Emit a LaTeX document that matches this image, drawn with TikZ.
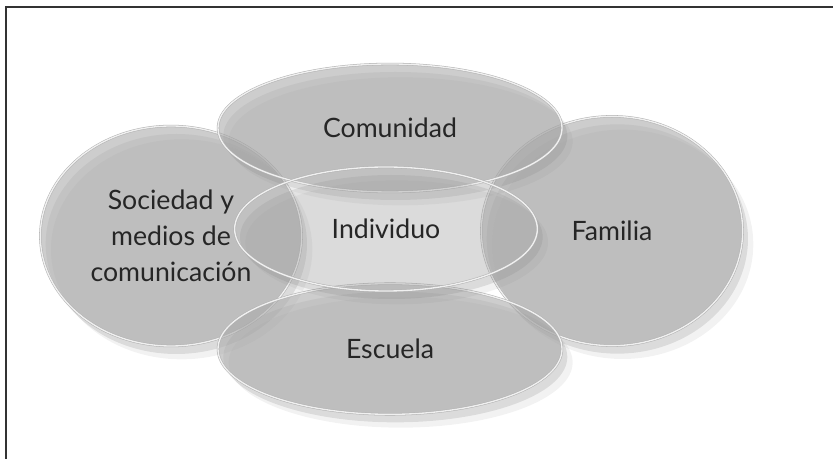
\documentclass[tikz,border=0pt]{standalone}
\usepackage{fontspec}
\setmainfont{Lato}
\usetikzlibrary{shapes,shadows}

\begin{document}
\begin{tikzpicture}[x=0.75pt, y=-0.75pt,
    ring/.style={ellipse, draw=black!30, line width=0.4pt, double=black!6, double distance=1pt,
        fill=black!33, fill opacity=0.6, text opacity=1, text=black!85, align=center, inner sep=0pt,
        font=\fontsize{20}{27}\selectfont,
        drop shadow={shadow xshift=8pt, shadow yshift=-10pt, opacity=0.1, fill=black!50},
        drop shadow={shadow xshift=4pt, shadow yshift=-6pt, opacity=0.2, fill=black!50}},
    core/.style={ring, fill=black!16, fill opacity=0.15}]
    \useasboundingbox (0,0) rectangle (833,459);
    \draw[line width=1.5pt, black!80] (6,459) -- (6,7) -- (833,7);

    \node[ring, minimum width=196pt, minimum height=165pt] (sociedad) at (171,236) {Sociedad y\\ medios de\\ comunicación};
    \node[ring, minimum width=196pt, minimum height=172pt] (familia) at (612,231) {Familia};
    \node[ring, minimum width=258pt, minimum height=96pt] (comunidad) at (390,128) {Comunidad};
    \node[ring, minimum width=258pt, minimum height=98pt] (escuela) at (390,349) {Escuela};
    \node[core, minimum width=227pt, minimum height=93pt] (individuo) at (386,229) {Individuo};
\end{tikzpicture}
\end{document}
